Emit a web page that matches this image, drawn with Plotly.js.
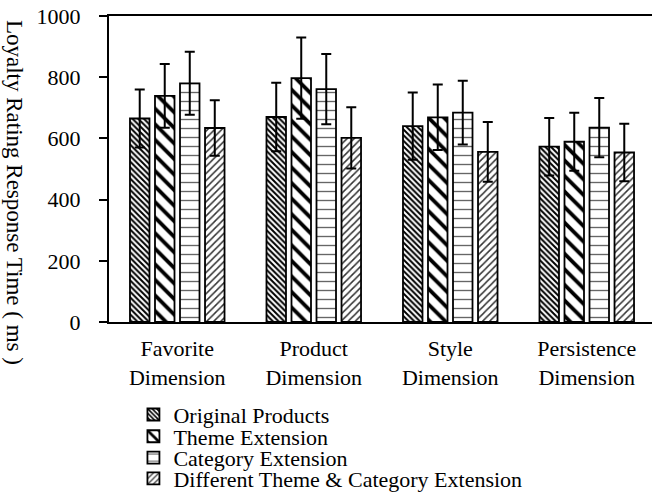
<!DOCTYPE html>
<html>
<head>
<meta charset="utf-8">
<script src="https://cdn.plot.ly/plotly-3.0.1.min.js"></script>
<style>html,body{margin:0;padding:0;background:#fff;}#chart{width:652px;height:504px;}</style>
</head>
<body>
<div id="chart"></div>
<script>
const categories = ["Favorite<br>Dimension", "Product<br>Dimension", "Style<br>Dimension", "Persistence<br>Dimension"];
const seriesNames = ["Original Products", "Theme Extension", "Category Extension", "Different Theme & Category Extension"];
const originalValues = [665, 670, 640, 573];
const originalErrors = [95, 112, 110, 94];
const themeValues = [739, 797, 669, 589];
const themeErrors = [104, 133, 107, 95];
const categoryValues = [780, 761, 684, 635];
const categoryErrors = [103, 115, 104, 97];
const differentValues = [634, 602, 556, 554];
const differentErrors = [91, 100, 98, 94];
const yTicks = [0, 200, 400, 600, 800, 1000];
const yTitle = "Loyalty Rating Response Time ( ms )";

const FONT = "'Liberation Serif', 'Times New Roman', serif";
const patterns = [
  {shape: "\\", size: 4, solidity: 0.5, fgcolor: "#000", bgcolor: "#fff"},
  {shape: "\\", size: 11, solidity: 0.35, fgcolor: "#000", bgcolor: "#fff"},
  {shape: "-", size: 9, solidity: 0.15, fgcolor: "#666", bgcolor: "#fff"},
  {shape: "/", size: 5, solidity: 0.3, fgcolor: "#333", bgcolor: "#fff"}
];
const values = [originalValues, themeValues, categoryValues, differentValues];
const errors = [originalErrors, themeErrors, categoryErrors, differentErrors];
const legendIds = ["legend", "legend2", "legend3", "legend4"];

const traces = seriesNames.map((name, i) => ({
  type: "bar",
  name: name,
  x: categories,
  y: values[i],
  legend: legendIds[i],
  showlegend: true,
  marker: {color: "#fff", pattern: patterns[i], line: {color: "#000", width: 1.8}},
  error_y: {type: "data", array: errors[i], visible: true, color: "#000", thickness: 2, width: 5}
}));

const legendRowsY = [-0.303, -0.374, -0.444, -0.512];
const layout = {
  width: 652, height: 504,
  margin: {l: 109, r: 0, t: 16, b: 182},
  paper_bgcolor: "#fff", plot_bgcolor: "#fff",
  font: {family: FONT, size: 22, color: "#000"},
  showlegend: true,
  barmode: "group",
  bargap: 0.267,
  bargroupgap: 0.22,
  xaxis: {
    type: "category",
    range: [-0.5, 3.478],
    showline: true, linecolor: "#000", linewidth: 2, mirror: true,
    ticks: "", showgrid: false, zeroline: false,
    ticklabelstandoff: 6,
    tickfont: {family: FONT, size: 22, color: "#000"}
  },
  yaxis: {
    range: [0, 1000],
    tickvals: yTicks,
    showline: true, linecolor: "#000", linewidth: 2,
    ticks: "outside", ticklen: 8, tickwidth: 2, tickcolor: "#000",
    showgrid: false, zeroline: false,
    ticklabelstandoff: 14,
    tickfont: {family: FONT, size: 22, color: "#000"}
  },
  annotations: [{
    text: yTitle, xref: "paper", yref: "paper", x: 0, y: 0.425,
    xshift: -95, xanchor: "center", yanchor: "middle", textangle: 90,
    showarrow: false, font: {family: FONT, size: 23, color: "#000"}
  }]
};
legendIds.forEach((id, i) => {
  layout[id] = {
    visible: true,
    x: 0.045, y: legendRowsY[i], xanchor: "left", yanchor: "middle",
    xref: "paper", yref: "paper",
    bgcolor: "rgba(0,0,0,0)", borderwidth: 0,
    font: {family: FONT, size: 22, color: "#000"},
    itemwidth: 30, tracegroupgap: 0
  };
});

Plotly.newPlot("chart", traces, layout, {staticPlot: true, displayModeBar: false});
</script>
</body>
</html>
